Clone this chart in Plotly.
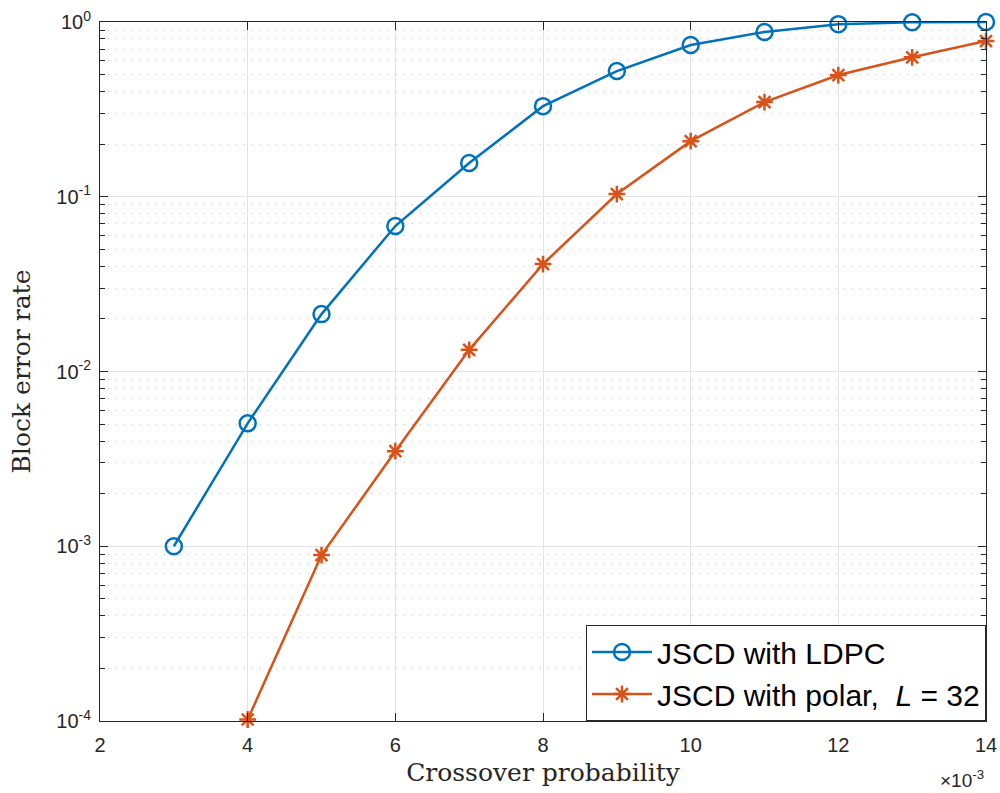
import plotly.graph_objects as go

# Crossover probability (units of 1e-3)
x_ldpc = [3, 4, 5, 6, 7, 8, 9, 10, 11, 12, 13, 14]
bler_ldpc = [1.0e-3, 5.05e-3, 0.0213, 0.068, 0.156, 0.33, 0.524, 0.738, 0.877, 0.972, 0.996, 1.0]

x_polar = [4, 5, 6, 7, 8, 9, 10, 11, 12, 13, 14]
bler_polar = [1.02e-4, 8.9e-4, 3.5e-3, 0.0133, 0.0412, 0.1036, 0.208, 0.348, 0.497, 0.628, 0.778]

x_ticks = [2, 4, 6, 8, 10, 12, 14]
y_tickvals = [1e-4, 1e-3, 1e-2, 1e-1, 1e0]
y_ticktext = ["10<sup>-4</sup>", "10<sup>-3</sup>", "10<sup>-2</sup>", "10<sup>-1</sup>", "10<sup>0</sup>"]

blue = "#0072BD"
orange = "#D95319"

fig = go.Figure()
fig.add_trace(go.Scatter(
    x=x_ldpc, y=bler_ldpc, mode="lines+markers", name="JSCD with LDPC",
    line=dict(color=blue, width=2.5),
    marker=dict(symbol="circle-open", size=16, color=blue, line=dict(width=2.5, color=blue)),
    cliponaxis=False,
))
fig.add_trace(go.Scatter(
    x=x_polar, y=bler_polar, mode="lines+markers", name="JSCD with polar,  <i>L</i> = 32",
    line=dict(color=orange, width=2.5),
    marker=dict(symbol="asterisk-open", size=14, color=orange, line=dict(width=2.5, color=orange)),
    cliponaxis=False,
))

axis_common = dict(
    showline=True, linecolor="#262626", linewidth=1, mirror="allticks",
    ticks="inside", ticklen=8, tickcolor="#262626",
    tickfont=dict(family="Liberation Sans, Arial, sans-serif", size=20, color="#262626"),
    gridcolor="#e3e3e3", gridwidth=1, zeroline=False, automargin=False,
)

fig.update_xaxes(
    range=[2, 14], tickvals=x_ticks, ticktext=[str(v) for v in x_ticks],
    ticklabelstandoff=6,
    title=dict(text="Crossover probability", standoff=8,
               font=dict(family="DejaVu Serif, Liberation Serif, serif", size=25, color="#262626")),
    **axis_common,
)
fig.update_yaxes(
    type="log", range=[-4, 0], tickvals=y_tickvals, ticktext=y_ticktext,
    ticklabelstandoff=4,
    minor=dict(dtick="D1", ticks="inside", ticklen=5, tickcolor="#262626",
               showgrid=True, gridcolor="#c4c4c4", griddash="1px,7px", gridwidth=1),
    title=dict(text="Block error rate", standoff=18,
               font=dict(family="DejaVu Serif, Liberation Serif, serif", size=25, color="#262626")),
    **axis_common,
)

fig.add_annotation(
    text="\u00d710<sup>-3</sup>", xref="paper", yref="paper", x=1.0, y=0,
    xanchor="right", yanchor="top", yshift=-44, showarrow=False,
    font=dict(family="Liberation Sans, Arial, sans-serif", size=19, color="#262626"),
)

fig.update_layout(
    width=1000, height=793,
    margin=dict(l=100, r=14, t=22, b=72),
    plot_bgcolor="white", paper_bgcolor="white",
    showlegend=True,
    legend=dict(
        x=1, y=0, xanchor="right", yanchor="bottom",
        bgcolor="white", bordercolor="#262626", borderwidth=1,
        font=dict(family="Liberation Sans, Arial, sans-serif", size=30, color="#000000"),
        itemwidth=60, tracegroupgap=0,
    ),
)

fig.write_html("out.html")
